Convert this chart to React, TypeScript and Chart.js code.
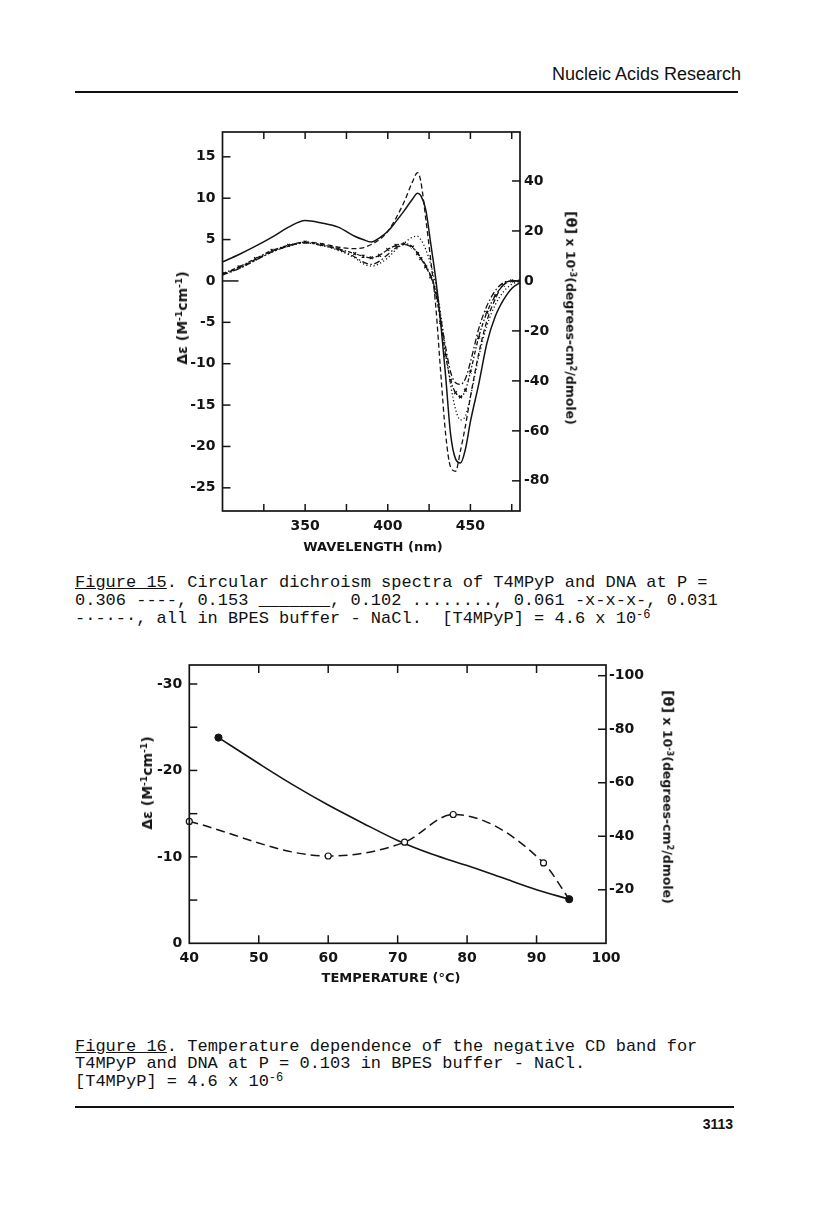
import React, { useEffect, useRef } from 'react';
import { Chart, registerables } from 'chart.js';

Chart.register(...registerables);

// ---------- Figure 15: CD spectra ----------
const wavelengths = [300, 310, 320, 330, 340, 350, 360, 370, 380, 385, 390, 395, 400, 405, 410, 415, 418, 420, 423, 426, 429, 432, 435, 438, 441, 444, 447, 450, 455, 460, 465, 470, 475, 480];
const cdP0306 = [0.8, 1.6, 2.6, 3.6, 4.3, 4.7, 4.5, 4.1, 3.9, 4.0, 4.4, 5.0, 6.0, 7.6, 9.6, 12.0, 13.1, 12.0, 7.5, 2.5, -3.0, -11.0, -18.5, -22.5, -23.0, -20.5, -17.5, -14.0, -8.8, -4.8, -2.2, -0.4, 0, 0];
const cdP0153 = [2.3, 3.2, 4.2, 5.3, 6.5, 7.3, 7.0, 6.5, 5.4, 5.0, 4.7, 5.2, 6.0, 7.2, 8.5, 9.9, 10.6, 10.3, 8.6, 4.5, 0.3, -5.0, -11.5, -18.5, -21.5, -22.0, -20.3, -17.0, -12.5, -7.5, -4.3, -2.3, -0.9, -0.2];
const cdP0102 = [0.8, 1.5, 2.5, 3.5, 4.2, 4.6, 4.3, 3.7, 2.8, 2.1, 1.8, 2.1, 2.8, 3.8, 4.6, 5.3, 5.4, 5.0, 3.8, 2.0, -0.5, -4.0, -8.5, -12.5, -15.5, -16.8, -16.3, -14.0, -9.2, -5.4, -2.9, -1.3, -0.4, 0];
const cdP0061 = [0.9, 1.7, 2.7, 3.7, 4.3, 4.7, 4.4, 3.9, 3.3, 3.0, 2.8, 3.1, 3.8, 4.3, 4.5, 4.1, 3.3, 2.7, 1.7, 0.5, -1.5, -5.0, -9.0, -12.0, -13.5, -14.0, -13.2, -11.0, -6.8, -3.8, -1.8, -0.5, 0, 0];
const cdP0031 = [0.7, 1.5, 2.5, 3.5, 4.2, 4.6, 4.3, 3.8, 2.9, 2.3, 2.0, 2.4, 3.2, 4.0, 4.4, 4.0, 3.4, 2.8, 1.9, 0.6, -1.3, -4.5, -8.0, -11.0, -12.3, -12.5, -11.8, -9.8, -5.8, -3.0, -1.2, -0.2, 0, 0];

const cdXTickMarks = [325, 350, 375, 400, 425, 450, 475];
const cdXLabels = [350, 400, 450];
const cdYLabels = [-25, -20, -15, -10, -5, 0, 5, 10, 15];
const cdYTickMarks = [-25, -20, -15, -10, -5, 5, 10, 15];
const cdY2Labels = [-80, -60, -40, -20, 0, 20, 40];

// ---------- Figure 16: temperature dependence ----------
const tempSolid = [44.2, 50, 55, 60, 65, 70, 75, 80, 85, 90, 94.7];
const deltaSolid = [-23.8, -20.8, -18.3, -16.0, -13.9, -11.9, -10.3, -9.0, -7.6, -6.2, -5.1];
const solidMarkerRadius = [3.6, 0, 0, 0, 0, 0, 0, 0, 0, 0, 3.6];
const tempDashed = [40, 60, 71, 78, 91, 94.7];
const deltaDashed = [-14.1, -10.1, -11.7, -14.9, -9.3, -5.1];
const dashedMarkerRadius = [3, 3, 3, 3, 3, 0];

const tXLabels = [40, 50, 60, 70, 80, 90, 100];
const tXTickMarks = [50, 60, 70, 80, 90];
const tYLabels = [-30, -20, -10, 0];
const tYTickMarks = [-30, -25, -20, -15, -10, -5];
const tY2Labels = [-100, -80, -60, -40, -20];

const INK = '#141414';
const tickFont = { family: '"DejaVu Sans", sans-serif', size: 14, weight: 'bold' as const };

type TickSpec = { scale: string; side: 'left' | 'right' | 'top' | 'bottom'; values: number[]; len: number };

function framePlugin(specs: TickSpec[]) {
  return {
    id: 'frameTicks',
    afterDatasetsDraw(chart: any) {
      const { ctx, chartArea: a } = chart;
      ctx.save();
      ctx.strokeStyle = INK;
      ctx.lineWidth = 1.7;
      ctx.strokeRect(a.left, a.top, a.right - a.left, a.bottom - a.top);
      ctx.lineWidth = 1.5;
      for (const s of specs) {
        const sc = chart.scales[s.scale];
        for (const v of s.values) {
          const p = sc.getPixelForValue(v);
          ctx.beginPath();
          if (s.side === 'left') { ctx.moveTo(a.left, p); ctx.lineTo(a.left + s.len, p); }
          if (s.side === 'right') { ctx.moveTo(a.right, p); ctx.lineTo(a.right - s.len, p); }
          if (s.side === 'bottom') { ctx.moveTo(p, a.bottom); ctx.lineTo(p, a.bottom - s.len); }
          if (s.side === 'top') { ctx.moveTo(p, a.top); ctx.lineTo(p, a.top + s.len); }
          ctx.stroke();
        }
      }
      ctx.restore();
    },
  };
}

function axis(min: number, max: number, position: string, labels: number[], padding: number, size: number, extra: any = {}) {
  const horizontal = position === 'bottom' || position === 'top';
  return {
    type: 'linear',
    min, max, position,
    grid: { display: false, drawTicks: false },
    border: { display: false },
    ticks: { color: INK, font: tickFont, autoSkip: false, maxRotation: 0, padding, callback: (v: number) => String(Math.round(v)) },
    afterBuildTicks: (s: any) => { s.ticks = labels.map((value) => ({ value })); },
    afterFit: (s: any) => { if (horizontal) s.height = size; else s.width = size; },
    ...extra,
  };
}

function cdConfig(): any {
  const pts = (arr: number[]) => arr.map((y, i) => ({ x: wavelengths[i], y }));
  const common = { borderColor: INK, pointRadius: 0, fill: false, cubicInterpolationMode: 'monotone' };
  return {
    type: 'line',
    data: {
      datasets: [
        { label: '0.306', data: pts(cdP0306), ...common, borderWidth: 1.3, borderDash: [5, 3] },
        { label: '0.153', data: pts(cdP0153), ...common, borderWidth: 1.5 },
        { label: '0.102', data: pts(cdP0102), ...common, borderWidth: 1.3, borderDash: [1.2, 2.4] },
        { label: '0.061', data: pts(cdP0061), ...common, borderWidth: 1.3, borderDash: [4, 2, 1.5, 2], pointRadius: 2, pointStyle: 'crossRot', pointBorderColor: INK, pointBorderWidth: 1.2 },
        { label: '0.031', data: pts(cdP0031), ...common, borderWidth: 1.3, borderDash: [6, 2.5, 1.5, 2.5] },
      ],
    },
    options: {
      animation: false,
      responsive: false,
      devicePixelRatio: 1,
      layout: { padding: { top: 20, left: 0, right: 0, bottom: 0 } },
      plugins: { legend: { display: false }, tooltip: { enabled: false }, title: { display: false } },
      scales: {
        x: axis(300, 480, 'bottom', cdXLabels, 7, 31),
        y: axis(-27.8, 18, 'left', cdYLabels, 7, 72.5),
        y2: axis(-92.07, 59.6, 'right', cdY2Labels, 4, 70),
      },
    },
    plugins: [framePlugin([
      { scale: 'y', side: 'left', values: cdYTickMarks, len: 8 },
      { scale: 'y', side: 'left', values: [0], len: 16 },
      { scale: 'y2', side: 'right', values: cdY2Labels, len: 8 },
      { scale: 'x', side: 'bottom', values: cdXTickMarks, len: 7 },
      { scale: 'x', side: 'top', values: cdXTickMarks, len: 7 },
    ])],
  };
}

function tempConfig(): any {
  return {
    type: 'line',
    data: {
      datasets: [
        {
          label: 'open', data: tempDashed.map((x, i) => ({ x, y: deltaDashed[i] })),
          borderColor: INK, borderWidth: 1.5, borderDash: [9, 5], cubicInterpolationMode: 'monotone',
          pointRadius: dashedMarkerRadius, pointBackgroundColor: '#ffffff', pointBorderColor: INK, pointBorderWidth: 1.2, clip: 8,
        },
        {
          label: 'filled', data: tempSolid.map((x, i) => ({ x, y: deltaSolid[i] })),
          borderColor: INK, borderWidth: 1.6, cubicInterpolationMode: 'monotone',
          pointRadius: solidMarkerRadius, pointBackgroundColor: INK, pointBorderColor: INK, pointBorderWidth: 1, clip: 8,
        },
      ],
    },
    options: {
      animation: false,
      responsive: false,
      devicePixelRatio: 1,
      layout: { padding: { top: 20, left: 0, right: 0, bottom: 0 } },
      plugins: { legend: { display: false }, tooltip: { enabled: false }, title: { display: false } },
      scales: {
        x: axis(40, 100, 'bottom', tXLabels, 7, 31.7),
        y: axis(-32.2, 0, 'left', tYLabels, 7, 59.3, { reverse: true }),
        y2: axis(-104, 0, 'right', tY2Labels, 3, 84, { reverse: true }),
      },
    },
    plugins: [framePlugin([
      { scale: 'y', side: 'left', values: tYTickMarks, len: 8 },
      { scale: 'y2', side: 'right', values: tY2Labels, len: 8 },
      { scale: 'x', side: 'bottom', values: tXTickMarks, len: 8 },
      { scale: 'x', side: 'top', values: tXTickMarks, len: 8 },
    ])],
  };
}

function ChartCanvas({ make, left, top, w, h }: { make: () => any; left: number; top: number; w: number; h: number }) {
  const ref = useRef<HTMLCanvasElement>(null);
  useEffect(() => {
    const chart = new Chart(ref.current as HTMLCanvasElement, make());
    return () => chart.destroy();
  }, []);
  return <canvas ref={ref} width={w} height={h} style={{ position: 'absolute', left, top, width: w, height: h }} />;
}

const sansBold: React.CSSProperties = { fontFamily: '"DejaVu Sans", sans-serif', fontWeight: 'bold', color: INK, whiteSpace: 'nowrap' };
const supStyle: React.CSSProperties = { fontSize: '0.65em', verticalAlign: '0.55em', lineHeight: 0 };

function RotLabel({ cx, cy, deg, size, children }: { cx: number; cy: number; deg: number; size: number; children: React.ReactNode }) {
  return (
    <div style={{ ...sansBold, position: 'absolute', left: cx, top: cy, fontSize: size, lineHeight: 1, transform: `translate(-50%, -50%) rotate(${deg}deg)` }}>
      {children}
    </div>
  );
}

const DeltaEps = () => (<>Δε (M<span style={supStyle}>-1</span>cm<span style={supStyle}>-1</span>)</>);
const Theta = () => (<><span style={{ fontSize: '1.15em' }}>[θ]</span>{'  x  '}10<span style={supStyle}>-3</span>(degrees-cm<span style={supStyle}>2</span>/dmole)</>);

const mono: React.CSSProperties = { position: 'absolute', left: 75, fontFamily: '"Liberation Mono", "Courier New", monospace', fontSize: 17, lineHeight: '18px', color: '#111', whiteSpace: 'pre' };
const capSup: React.CSSProperties = { fontSize: 12, verticalAlign: '0.45em', lineHeight: 0 };

export default function App() {
  return (
    <div style={{ position: 'absolute', left: 0, top: 0, width: 816, height: 1213, background: '#fff', overflow: 'hidden' }}>
      {/* running header */}
      <div style={{ position: 'absolute', left: 440, top: 63, width: 301, textAlign: 'right', fontFamily: '"Liberation Sans", Arial, sans-serif', fontSize: 18, lineHeight: '22px', color: '#111' }}>
        Nucleic Acids Research
      </div>
      <div style={{ position: 'absolute', left: 75, top: 91, width: 663, height: 2, background: '#111' }} />

      {/* Figure 15 */}
      <ChartCanvas make={cdConfig} left={150} top={112} w={440} h={430} />
      <RotLabel cx={182} cy={318} deg={-90} size={14}><DeltaEps /></RotLabel>
      <RotLabel cx={571} cy={318} deg={90} size={12.5}><Theta /></RotLabel>
      <div style={{ ...sansBold, position: 'absolute', left: 373, top: 546, fontSize: 13, transform: 'translate(-50%, -50%)' }}>WAVELENGTH (nm)</div>

      <div style={{ ...mono, top: 574 }}><span style={{ textDecoration: 'underline' }}>Figure 15</span>. Circular dichroism spectra of T4MPyP and DNA at P =</div>
      <div style={{ ...mono, top: 592 }}>0.306 ----, 0.153 _______, 0.102 ........, 0.061 -x-x-x-, 0.031</div>
      <div style={{ ...mono, top: 610 }}>-·-·-·, all in BPES buffer - NaCl.  [T4MPyP] = 4.6 x 10<span style={capSup}>-6</span></div>

      {/* Figure 16 */}
      <ChartCanvas make={tempConfig} left={130} top={645} w={560} h={330} />
      <RotLabel cx={147} cy={783} deg={-90} size={14}><DeltaEps /></RotLabel>
      <RotLabel cx={668} cy={797} deg={90} size={12.5}><Theta /></RotLabel>
      <div style={{ ...sansBold, position: 'absolute', left: 391, top: 977, fontSize: 13, transform: 'translate(-50%, -50%)' }}>TEMPERATURE (°C)</div>

      <div style={{ ...mono, top: 1038 }}><span style={{ textDecoration: 'underline' }}>Figure 16</span>. Temperature dependence of the negative CD band for</div>
      <div style={{ ...mono, top: 1055 }}>T4MPyP and DNA at P = 0.103 in BPES buffer - NaCl.</div>
      <div style={{ ...mono, top: 1073 }}>[T4MPyP] = 4.6 x 10<span style={capSup}>-6</span></div>

      {/* footer */}
      <div style={{ position: 'absolute', left: 75, top: 1106, width: 659, height: 1.5, background: '#111' }} />
      <div style={{ position: 'absolute', left: 633, top: 1115, width: 100, textAlign: 'right', fontFamily: '"Liberation Sans", Arial, sans-serif', fontWeight: 'bold', fontSize: 14, lineHeight: '18px', color: '#111' }}>
        3113
      </div>
    </div>
  );
}
